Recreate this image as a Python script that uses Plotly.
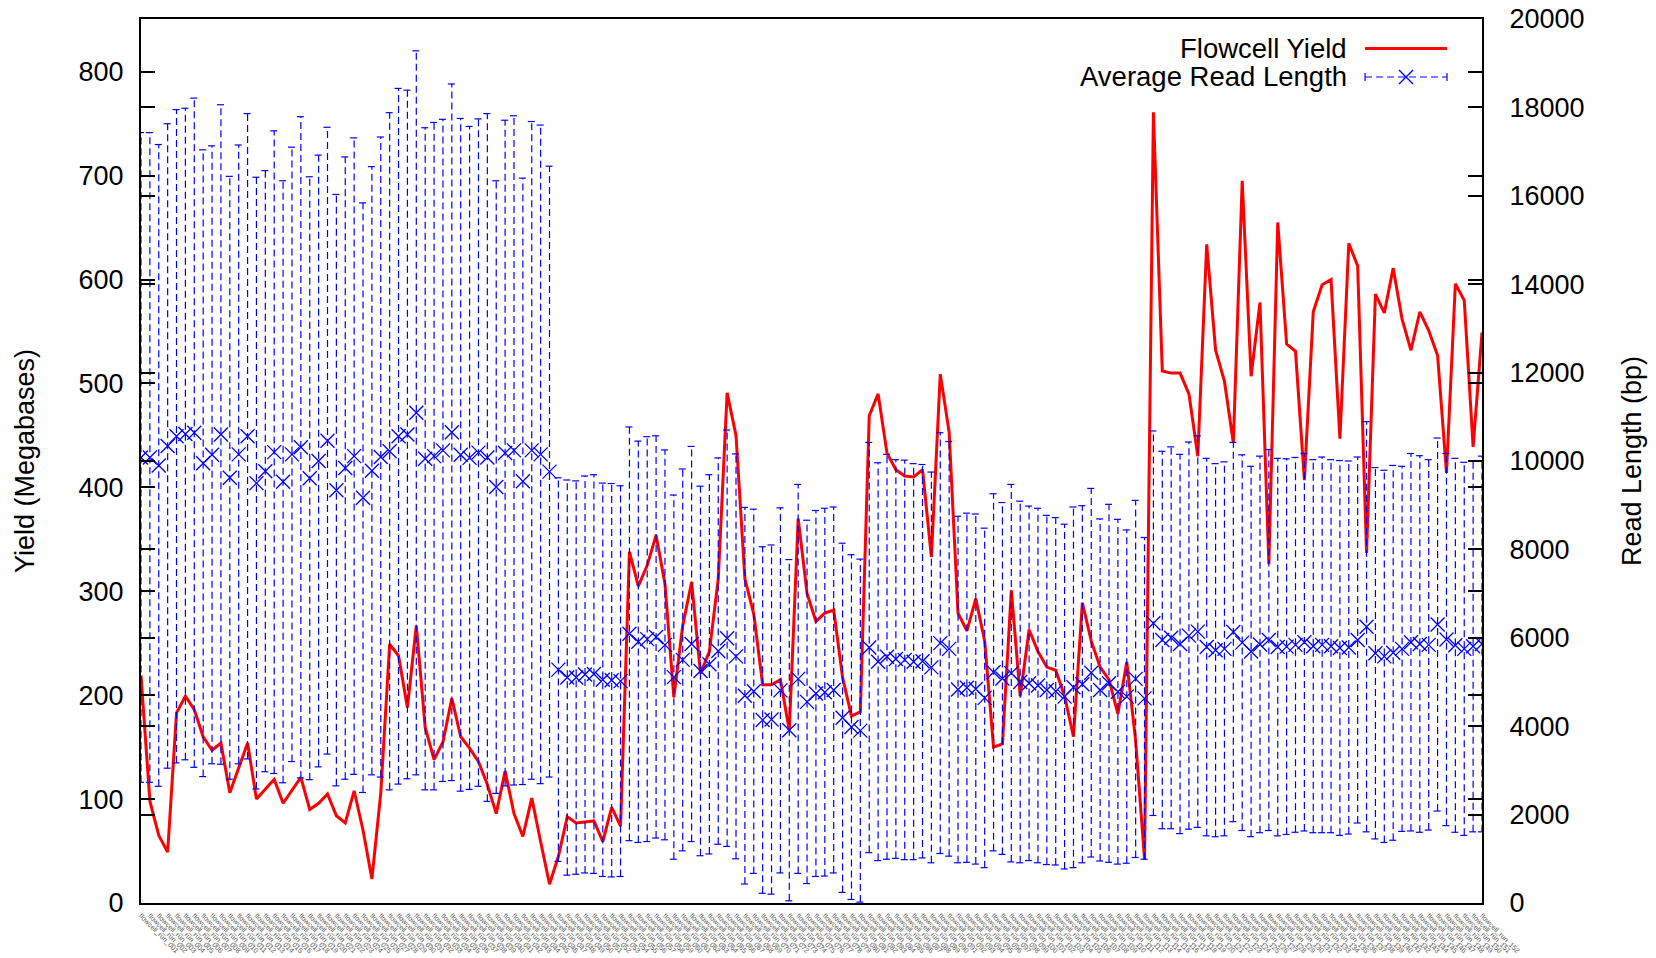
import plotly.graph_objects as go

# ---- data -------------------------------------------------------------
RUN_LABELS = [f"flowcell_run_{n:03d}" for n in range(1, 153)]

YIELD_MB = [
    219, 98, 65, 49, 183, 199, 186, 160, 147, 154,
    106, 129, 154, 100, 110, 119, 96, 108, 121, 90,
    96, 105, 84, 77, 108, 70, 23, 106, 249, 238,
    188, 267, 169, 138, 155, 197, 160, 149, 136, 114,
    86, 127, 86, 64, 101, 59, 18, 45, 83, 77,
    78, 79, 59, 92, 74, 338, 305, 325, 354, 307,
    198, 267, 309, 221, 242, 312, 491, 450, 312, 278,
    210, 210, 215, 166, 370, 298, 271, 279, 282, 217,
    180, 184, 469, 490, 433, 417, 411, 410, 417, 333,
    509, 453, 279, 262, 293, 252, 150, 153, 301, 199,
    263, 242, 227, 224, 199, 160, 289, 252, 227, 215,
    182, 232, 156, 42, 761, 512, 510, 510, 490, 430,
    634, 532, 502, 443, 695, 507, 578, 326, 655, 538,
    531, 407, 569, 595, 600, 447, 635, 613, 337, 586,
    568, 611, 562, 532, 569, 551, 527, 414, 596, 580,
    439, 549,
]

READ_LEN_MEAN = [
    10080, 10080, 9900, 10340, 10560, 10610, 10640, 9950, 10140, 10600,
    9620, 10150, 10560, 9500, 9770, 10200, 9530, 10150, 10310, 9610,
    10000, 10460, 9340, 9840, 10110, 9170, 9780, 10090, 10220, 10560,
    10600, 11090, 10050, 10110, 10240, 10650, 10140, 10070, 10190, 10080,
    9410, 10180, 10240, 9540, 10240, 10150, 9760, 5280, 5100, 5100,
    5170, 5180, 5050, 5040, 5020, 6090, 5910, 5970, 6020, 5840,
    5110, 5500, 5860, 5250, 5400, 5700, 5990, 5580, 4690, 4790,
    4140, 4150, 4810, 3910, 5070, 4550, 4740, 4770, 4820, 4190,
    3980, 3900, 5780, 5460, 5570, 5520, 5500, 5460, 5470, 5330,
    5880, 5750, 4830, 4870, 4840, 4640, 5220, 5080, 5200, 5000,
    4970, 4920, 4820, 4790, 4670, 4880, 4950, 5210, 4820, 4970,
    4780, 4670, 5070, 4630, 6330, 5950, 6000, 5860, 6050, 6140,
    5790, 5720, 5750, 6130, 5890, 5690, 5850, 5950, 5790, 5800,
    5840, 5900, 5810, 5840, 5810, 5770, 5780, 5950, 6250, 5650,
    5580, 5660, 5750, 5900, 5860, 5840, 6300, 5960, 5830, 5750,
    5810, 5860,
]

READ_LEN_SD = [
    7350, 7350, 7260, 7290, 7390, 7370, 7570, 7090, 6990, 7460,
    6820, 7000, 7300, 6920, 6800, 7270, 6810, 6950, 7480, 6820,
    6920, 7090, 6690, 7040, 7200, 6670, 6880, 7240, 7660, 7870,
    7790, 8190, 7490, 7550, 7490, 7880, 7610, 7500, 7550, 7780,
    6930, 7530, 7570, 6860, 7440, 7450, 6910, 4340, 4470, 4450,
    4490, 4510, 4450, 4450, 4420, 4680, 4540, 4580, 4550, 4410,
    4120, 4320, 4470, 4180, 4290, 4370, 4710, 4580, 4260, 4120,
    3920, 3950, 4130, 3860, 4400, 4110, 4140, 4160, 4140, 3950,
    3900, 3880, 4640, 4500, 4580, 4510, 4520, 4480, 4450, 4420,
    4760, 4690, 3920, 3950, 3960, 3840, 4040, 3980, 4270, 4090,
    4010, 4010, 3950, 3930, 3900, 4080, 4040, 4170, 3870, 4050,
    3900, 3770, 4040, 3640, 4350, 4270, 4320, 4290, 4380, 4430,
    4270, 4220, 4230, 4290, 4250, 4190, 4260, 4310, 4270, 4250,
    4240, 4270, 4220, 4250, 4220, 4240, 4220, 4140, 4640, 4200,
    4210, 4240, 4130, 4270, 4260, 4190, 4220, 4210, 4230, 4220,
    4200, 4250,
]

YIELD_TICKS = [0, 100, 200, 300, 400, 500, 600, 700, 800]
LENGTH_TICKS = [0, 2000, 4000, 6000, 8000, 10000, 12000, 14000, 16000, 18000, 20000]
LENGTH_TICK_TEXT = ["0", "2000", "4000", "6000", "8000", "10000", "12000",
                    "14000", "16000", "18000", "20000"]

# ---- styling ----------------------------------------------------------
FONT = "Liberation Sans, Arial, Helvetica, sans-serif"
RED = "#ff0000"
BLUE = "#0000ff"
CAP = 0.45  # half-width of whisker caps, in category units

idx = list(range(len(YIELD_MB)))
low = [m - s for m, s in zip(READ_LEN_MEAN, READ_LEN_SD)]
high = [m + s for m, s in zip(READ_LEN_MEAN, READ_LEN_SD)]

# dashed whiskers (stem plus a cap at each end), one path broken by gaps
wx, wy = [], []
for i, lo, hi in zip(idx, low, high):
    wx += [i, i, None, i - CAP, i + CAP, None, i - CAP, i + CAP, None]
    wy += [lo, hi, None, hi, hi, None, lo, lo, None]

fig = go.Figure()

fig.add_trace(go.Scatter(
    x=idx, y=YIELD_MB, mode="lines", name="Flowcell Yield",
    line=dict(color=RED, width=3), showlegend=False,
))
fig.add_trace(go.Scatter(
    x=wx, y=wy, mode="lines", yaxis="y2", hoverinfo="skip",
    line=dict(color=BLUE, width=1.2, dash="7px,4px"), showlegend=False,
))
fig.add_trace(go.Scatter(
    x=idx, y=READ_LEN_MEAN, mode="markers", yaxis="y2",
    name="Average Read Length",
    marker=dict(symbol="x-thin", size=14, color=BLUE,
                line=dict(color=BLUE, width=1.3)),
    showlegend=False,
))

# ---- key in the top-right corner (text left of its sample) -------------
PX_W, PX_H = 1341.0, 884.0
key_text_x = 0.9005
s0, s1 = 0.9128, 0.9739
row1, row2 = 0.9665, 0.9344
annotations = [
    dict(text="Flowcell Yield", x=key_text_x, y=row1, xref="paper", yref="paper",
         xanchor="right", yanchor="middle", showarrow=False,
         font=dict(family=FONT, size=27.5, color="black")),
    dict(text="Average Read Length", x=key_text_x, y=row2, xref="paper", yref="paper",
         xanchor="right", yanchor="middle", showarrow=False,
         font=dict(family=FONT, size=27.5, color="black")),
    dict(text="Yield (Megabases)", x=-0.0865, y=0.5, xref="paper", yref="paper",
         textangle=-90, xanchor="center", yanchor="middle", showarrow=False,
         font=dict(family=FONT, size=27, color="black")),
    dict(text="Read Length (bp)", x=1.1119, y=0.5, xref="paper", yref="paper",
         textangle=-90, xanchor="center", yanchor="middle", showarrow=False,
         font=dict(family=FONT, size=27, color="black")),
]

tick_h = 4 / PX_H
mx = (s0 + s1) / 2
xd, yd = 7 / PX_W, 7 / PX_H
shapes = [
    dict(type="line", xref="paper", yref="paper", x0=s0, x1=s1, y0=row1, y1=row1,
         line=dict(color=RED, width=3)),
    dict(type="line", xref="paper", yref="paper", x0=s0, x1=s1, y0=row2, y1=row2,
         line=dict(color=BLUE, width=1.2, dash="7px,4px")),
    dict(type="line", xref="paper", yref="paper", x0=s0, x1=s0,
         y0=row2 - tick_h, y1=row2 + tick_h, line=dict(color=BLUE, width=1.2)),
    dict(type="line", xref="paper", yref="paper", x0=s1, x1=s1,
         y0=row2 - tick_h, y1=row2 + tick_h, line=dict(color=BLUE, width=1.2)),
    dict(type="line", xref="paper", yref="paper", x0=mx - xd, x1=mx + xd,
         y0=row2 - yd, y1=row2 + yd, line=dict(color=BLUE, width=1.3)),
    dict(type="line", xref="paper", yref="paper", x0=mx - xd, x1=mx + xd,
         y0=row2 + yd, y1=row2 - yd, line=dict(color=BLUE, width=1.3)),
]

fig.update_layout(
    width=1656, height=958,
    margin=dict(l=141, r=174, t=19, b=55, autoexpand=False),
    paper_bgcolor="white", plot_bgcolor="white",
    font=dict(family=FONT, size=27, color="black"),
    showlegend=False,
    annotations=annotations,
    shapes=shapes,
    xaxis=dict(
        range=[0, len(idx) - 1], automargin=False,
        tickmode="array", tickvals=idx, ticktext=RUN_LABELS,
        tickangle=45, tickfont=dict(size=7, color="#555"),
        ticks="", ticklabelstandoff=4, showgrid=False, zeroline=False,
        showline=True, linecolor="black", linewidth=2, mirror=True,
    ),
    yaxis=dict(
        range=[0, 850.8], tickmode="array", tickvals=YIELD_TICKS, automargin=False,
        ticks="inside", ticklen=14, tickwidth=2, tickcolor="black",
        ticklabelstandoff=10,
        showgrid=False, zeroline=False,
        showline=True, linecolor="black", linewidth=2, mirror="ticks",
        tickfont=dict(size=27),
    ),
    yaxis2=dict(
        range=[0, 20000], tickmode="array", tickvals=LENGTH_TICKS,
        ticktext=LENGTH_TICK_TEXT, automargin=False,
        overlaying="y", side="right",
        ticks="inside", ticklen=14, tickwidth=2, tickcolor="black",
        ticklabelstandoff=20,
        showgrid=False, zeroline=False,
        showline=True, linecolor="black", linewidth=2, mirror="ticks",
        tickfont=dict(size=27),
    ),
)

fig.write_html("out.html")
